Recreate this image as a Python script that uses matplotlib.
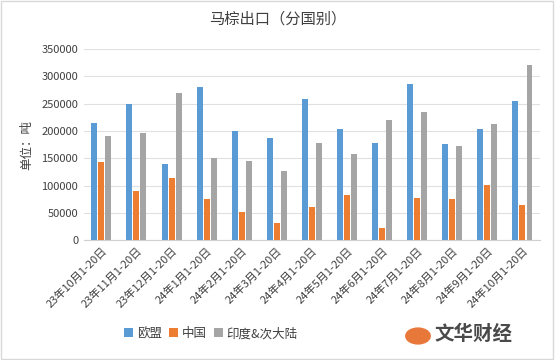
import matplotlib
matplotlib.use("Agg")
import matplotlib.pyplot as plt
import numpy as np
from matplotlib.patches import Circle, Rectangle

plt.rcParams['font.family'] = ['Noto Sans CJK SC', 'DejaVu Sans']

categories = ["23年10月1-20日", "23年11月1-20日", "23年12月1-20日", "24年1月1-20日",
              "24年2月1-20日", "24年3月1-20日", "24年4月1-20日", "24年5月1-20日",
              "24年6月1-20日", "24年7月1-20日", "24年8月1-20日", "24年9月1-20日",
              "24年10月1-20日"]
eu = [215000, 249000, 139000, 281000, 199000, 187000, 259000, 204000, 178000, 286000, 176500, 204000, 255000]
china = [143500, 90500, 113000, 74500, 52000, 30500, 60000, 83500, 22500, 78000, 74500, 101000, 63500]
india = [191000, 197000, 270000, 151000, 145000, 127000, 178000, 158000, 220000, 235000, 172000, 213000, 321000]
series_names = ["欧盟", "中国", "印度&次大陆"]
colors = ["#5B9BD5", "#ED7D31", "#A5A5A5"]
yticks = [0, 50000, 100000, 150000, 200000, 250000, 300000, 350000]

fig = plt.figure(figsize=(5.55, 3.6), dpi=100)
ax = fig.add_axes([0.151, 0.333, 0.822, 0.531])

x = np.arange(len(categories))
w = 0.17
pitch = 0.2
for i, (vals, name, c) in enumerate(zip([eu, china, india], series_names, colors)):
    ax.bar(x + (i - 1) * pitch, vals, width=w, color=c, label=name, zorder=3)

ax.set_xlim(-0.5, len(categories) - 0.5)
ax.set_ylim(0, 350000)
ax.set_yticks(yticks)
ax.set_yticklabels([str(v) for v in yticks], fontsize=8, color="#404040")
ax.set_xticks(x)
ax.set_xticklabels(categories, rotation=45, ha="right", rotation_mode="anchor",
                   fontsize=8, color="#404040")
ax.tick_params(axis="both", length=0, pad=4)
ax.grid(axis="y", color="#E0E0E0", linewidth=0.8, zorder=0)
for s in ["top", "right", "left"]:
    ax.spines[s].set_visible(False)
ax.spines["bottom"].set_color("#D0D0D0")

ax.set_ylabel("单位：吨", fontsize=9, color="#404040", labelpad=6)
fig.text(0.5, 0.948, "马棕出口（分国别）", ha="center", va="center", fontsize=11, color="#404040")

fig.legend(loc="center", bbox_to_anchor=(0.38, 0.073), ncol=3, frameon=False,
           fontsize=9, handlelength=0.7, handleheight=0.7, handletextpad=0.3,
           columnspacing=0.6, labelcolor="#404040")

# watermark logo
fig.patches.append(Circle((418 / 555, 1 - 336 / 360), 0.022, transform=fig.transFigure,
                          color="#E8773A", zorder=5))
fig.text(0.783, 1 - 334 / 360, "文华财经", ha="left", va="center", fontsize=14,
         fontweight="bold", color="#4A4A4A")

fig.patches.append(Rectangle((0.002, 0.003), 0.995, 0.993, transform=fig.transFigure,
                             fill=False, edgecolor="#D9D9D9", linewidth=1))

fig.savefig("out.png", dpi=100)
